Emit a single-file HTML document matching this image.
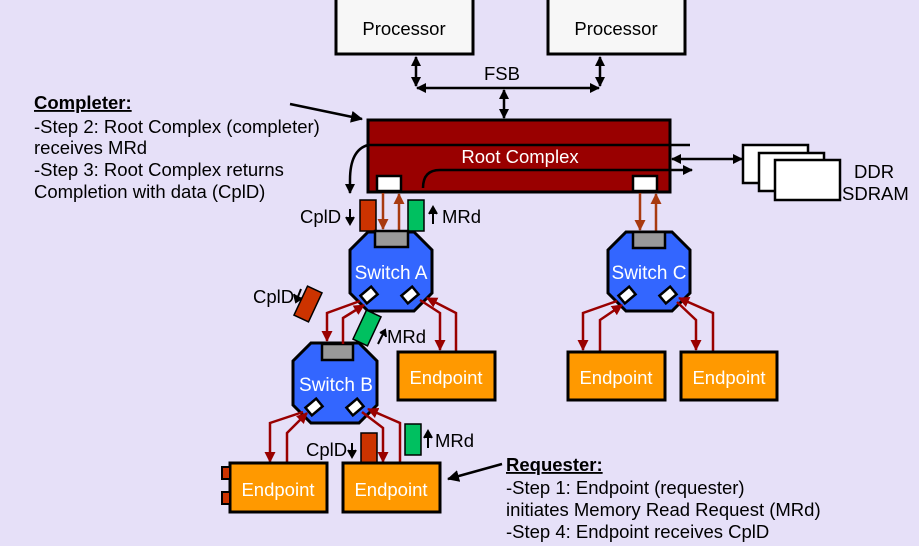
<!DOCTYPE html>
<html><head><meta charset="utf-8"><style>
html,body{margin:0;padding:0;background:#e6e0f8;}
svg{display:block;}
text{font-family:"Liberation Sans",sans-serif;}
</style></head><body>
<svg width="919" height="546" viewBox="0 0 919 546" xmlns="http://www.w3.org/2000/svg">
<defs>
<marker id="ak" markerWidth="10" markerHeight="10" refX="9" refY="5" orient="auto-start-reverse" markerUnits="userSpaceOnUse"><path d="M0,0 L10,5 L0,10 z" fill="#000"/></marker>
<marker id="ak2" markerWidth="12" markerHeight="12" refX="11" refY="6" orient="auto" markerUnits="userSpaceOnUse"><path d="M0,0 L12,6 L0,12 z" fill="#000"/></marker>
<marker id="ar" markerWidth="11" markerHeight="11" refX="10" refY="5.5" orient="auto" markerUnits="userSpaceOnUse"><path d="M0,0 L11,5.5 L0,11 z" fill="#990000"/></marker>
<marker id="ab" markerWidth="11" markerHeight="11" refX="10" refY="5.5" orient="auto" markerUnits="userSpaceOnUse"><path d="M0,0 L11,5.5 L0,11 z" fill="#a83a10"/></marker>
</defs>
<rect width="919" height="546" fill="#e6e0f8"/>

<!-- Processors -->
<rect x="336" y="-2" width="137" height="56" fill="#f7f7f7" stroke="#000" stroke-width="3"/>
<text x="404" y="35" font-size="18.5" text-anchor="middle">Processor</text>
<rect x="548" y="-2" width="137" height="56" fill="#f7f7f7" stroke="#000" stroke-width="3"/>
<text x="616" y="35" font-size="18.5" text-anchor="middle">Processor</text>

<!-- FSB -->
<g stroke="#000" stroke-width="2.5" fill="none">
<line x1="416" y1="57" x2="416" y2="86" marker-start="url(#ak)" marker-end="url(#ak)"/>
<line x1="600" y1="57" x2="600" y2="86" marker-start="url(#ak)" marker-end="url(#ak)"/>
<line x1="417" y1="88" x2="599" y2="88" marker-start="url(#ak)" marker-end="url(#ak)"/>
<line x1="504" y1="90" x2="504" y2="118" marker-start="url(#ak)" marker-end="url(#ak)"/>
</g>
<text x="502" y="80" font-size="18.5" text-anchor="middle">FSB</text>

<!-- Root complex -->
<rect x="368" y="120" width="302" height="72" fill="#990000" stroke="#000" stroke-width="3"/>
<g stroke="#000" stroke-width="2.5" fill="none">
<line x1="368" y1="145" x2="690" y2="145"/>
<path d="M368,145 Q350,150 350,180 L350,193" marker-end="url(#ak)"/>
<path d="M423,188 Q423,170 440,170 L692,170" marker-end="url(#ak)"/>
<line x1="672" y1="159" x2="742" y2="159" marker-start="url(#ak)" marker-end="url(#ak)"/>
<line x1="290" y1="104" x2="362" y2="119" marker-end="url(#ak2)"/>
<line x1="502" y1="464" x2="448" y2="479" marker-end="url(#ak2)"/>
</g>
<text x="520" y="163" font-size="18.5" fill="#fff" text-anchor="middle">Root Complex</text>
<rect x="377" y="176" width="24" height="15" fill="#fff" stroke="#000" stroke-width="2.5"/>
<rect x="633" y="176" width="24" height="15" fill="#fff" stroke="#000" stroke-width="2.5"/>

<!-- DDR -->
<rect x="743" y="145" width="65" height="38" fill="#fff" stroke="#000" stroke-width="2.5"/>
<rect x="759" y="153" width="65" height="38" fill="#fff" stroke="#000" stroke-width="2.5"/>
<rect x="775" y="160" width="65" height="40" fill="#fff" stroke="#000" stroke-width="2.5"/>
<text x="854" y="178" font-size="18.5">DDR</text>
<text x="842" y="200" font-size="18.5">SDRAM</text>

<!-- brown arrows root -> switches -->
<g stroke="#a83a10" stroke-width="2.5" fill="none">
<line x1="383" y1="193" x2="383" y2="229" marker-end="url(#ab)"/>
<line x1="399" y1="230" x2="399" y2="194" marker-end="url(#ab)"/>
<line x1="640" y1="193" x2="640" y2="230" marker-end="url(#ab)"/>
<line x1="656" y1="232" x2="656" y2="194" marker-end="url(#ab)"/>
</g>

<!-- packets top -->
<rect x="360" y="200" width="16" height="31" fill="#cc3300" stroke="#000" stroke-width="1.5"/>
<rect x="408" y="200" width="16" height="31" fill="#00c060" stroke="#000" stroke-width="1.5"/>
<text x="300" y="223" font-size="18.5">CplD</text>
<path d="M350,209 L350,220 M346,217 L350,224 L354,217" stroke="#000" stroke-width="2" fill="#000"/>
<text x="442" y="223" font-size="18.5">MRd</text>
<path d="M433,224 L433,212 M429,214 L433,207 L437,214" stroke="#000" stroke-width="2" fill="#000"/>

<!-- Switches -->
<g stroke="#000" stroke-width="3" fill="#3366ff">
<polygon points="368,232 414,232 432,250 432,293 414,311 368,311 350,293 350,250"/>
<polygon points="311,343 359,343 377,361 377,405 359,423 311,423 293,405 293,361"/>
<polygon points="626,232 672,232 690,250 690,293 672,311 626,311 608,293 608,250"/>
</g>
<g fill="#999" stroke="#000" stroke-width="2.5">
<rect x="375" y="231" width="33" height="16"/>
<rect x="322" y="344" width="31" height="16"/>
<rect x="633" y="232" width="32" height="16"/>
</g>
<text x="391" y="279" font-size="19" fill="#fff" text-anchor="middle">Switch A</text>
<text x="336" y="391" font-size="19" fill="#fff" text-anchor="middle">Switch B</text>
<text x="649" y="279" font-size="19" fill="#fff" text-anchor="middle">Switch C</text>
<g fill="#fff" stroke="#000" stroke-width="2.5">
<rect x="-7" y="-5" width="14" height="10" transform="translate(369,295) rotate(-40)"/>
<rect x="-7" y="-5" width="14" height="10" transform="translate(410,295) rotate(-40)"/>
<rect x="-7" y="-5" width="14" height="10" transform="translate(314,407) rotate(-40)"/>
<rect x="-7" y="-5" width="14" height="10" transform="translate(355,407) rotate(-40)"/>
<rect x="-7" y="-5" width="14" height="10" transform="translate(627,295) rotate(-40)"/>
<rect x="-7" y="-5" width="14" height="10" transform="translate(668,295) rotate(-40)"/>
</g>

<!-- red arrows -->
<g stroke="#990000" stroke-width="2.5" fill="none">
<polyline points="360,301 327,313 327,341" marker-end="url(#ar)"/>
<polyline points="343,344 343,318 364,305" marker-end="url(#ar)"/>
<polyline points="420,300 440,313 440,350" marker-end="url(#ar)"/>
<polyline points="456,351 456,313 427,298" marker-end="url(#ar)"/>
<polyline points="303,412 270,423 270,462" marker-end="url(#ar)"/>
<polyline points="287,463 287,433 307,413" marker-end="url(#ar)"/>
<polyline points="362,412 383,428 383,462" marker-end="url(#ar)"/>
<polyline points="400,463 400,423 368,409" marker-end="url(#ar)"/>
<polyline points="617,301 583,313 583,350" marker-end="url(#ar)"/>
<polyline points="600,351 600,320 622,305" marker-end="url(#ar)"/>
<polyline points="677,302 696,320 696,350" marker-end="url(#ar)"/>
<polyline points="713,351 713,313 679,298" marker-end="url(#ar)"/>
</g>

<!-- tilted packets -->
<rect x="-8" y="-16" width="16" height="32" fill="#cc3300" stroke="#000" stroke-width="1.5" transform="translate(308,304) rotate(25)"/>
<text x="253" y="303" font-size="18.5">CplD</text>
<path d="M301,289 L297,299 M294,294 L296,302 L302,298" stroke="#000" stroke-width="2" fill="#000"/>
<rect x="-8" y="-16" width="16" height="32" fill="#00c060" stroke="#000" stroke-width="1.5" transform="translate(367,328) rotate(25)"/>
<text x="387" y="343" font-size="18.5">MRd</text>
<path d="M378,344 L383,334 M380,333 L385,330 L386,337" stroke="#000" stroke-width="2" fill="#000"/>

<!-- bottom packets -->
<rect x="361" y="433" width="16" height="30" fill="#cc3300" stroke="#000" stroke-width="1.5"/>
<rect x="405" y="424" width="16" height="31" fill="#00c060" stroke="#000" stroke-width="1.5"/>
<text x="306" y="456" font-size="18.5">CplD</text>
<path d="M352,443 L352,453 M348,450 L352,457 L356,450" stroke="#000" stroke-width="2" fill="#000"/>
<text x="435" y="447" font-size="18.5">MRd</text>
<path d="M428,448 L428,436 M424,438 L428,431 L432,438" stroke="#000" stroke-width="2" fill="#000"/>

<!-- Endpoints -->
<g fill="#ff9900" stroke="#000" stroke-width="3">
<rect x="398" y="352" width="97" height="48"/>
<rect x="568" y="352" width="97" height="48"/>
<rect x="681" y="352" width="96" height="48"/>
<rect x="230" y="463" width="97" height="49"/>
<rect x="343" y="463" width="97" height="49"/>
</g>
<g fill="#cc3300" stroke="#000" stroke-width="2">
<rect x="222" y="467" width="8" height="12"/>
<rect x="222" y="492" width="8" height="12"/>
</g>
<g font-size="18.5" fill="#fff" text-anchor="middle">
<text x="446" y="384">Endpoint</text>
<text x="616" y="384">Endpoint</text>
<text x="729" y="384">Endpoint</text>
<text x="278" y="496">Endpoint</text>
<text x="391" y="496">Endpoint</text>
</g>

<!-- Completer text -->
<g font-size="18.5">
<text x="34" y="109" font-weight="bold" text-decoration="underline">Completer:</text>
<text x="34" y="133">-Step 2: Root Complex (completer)</text>
<text x="34" y="154">receives MRd</text>
<text x="34" y="176">-Step 3: Root Complex returns</text>
<text x="34" y="198">Completion with data (CplD)</text>
<text x="506" y="471" font-weight="bold" text-decoration="underline">Requester:</text>
<text x="506" y="494">-Step 1: Endpoint (requester)</text>
<text x="506" y="516">initiates Memory Read Request (MRd)</text>
<text x="506" y="538">-Step 4: Endpoint receives CplD</text>
</g>
</svg>
</body></html>
